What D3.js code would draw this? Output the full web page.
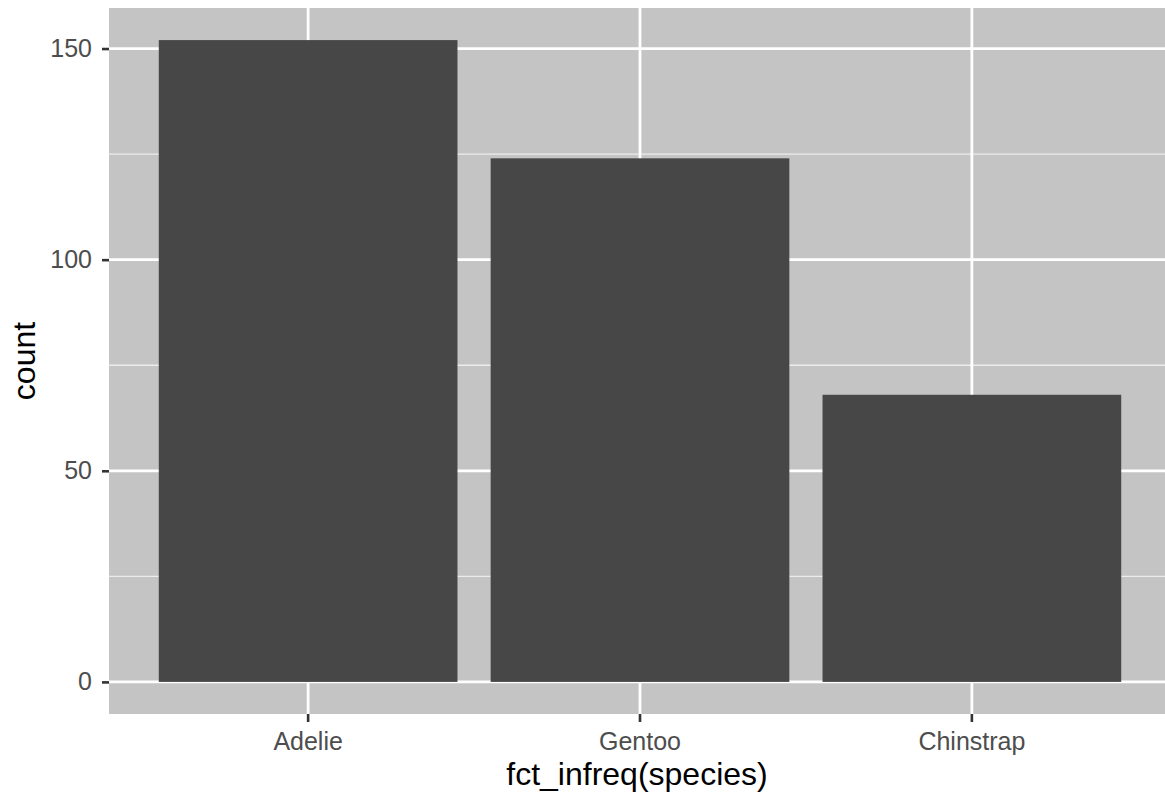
<!DOCTYPE html>
<html>
<head>
<meta charset="utf-8">
<script src="https://cdn.jsdelivr.net/npm/d3@7"></script>
<style>
  html, body { margin: 0; padding: 0; background: #ffffff; }
  svg { display: block; }
</style>
</head>
<body>
<svg id="chart" width="1165" height="797"></svg>
<script>
const categories = ["Adelie", "Gentoo", "Chinstrap"];
const counts = [152, 124, 68];
const yTicks = [0, 50, 100, 150];
const yMinorTicks = [25, 75, 125];
const xTitle = "fct_infreq(species)";
const yTitle = "count";

const W = 1165, H = 797;
const panel = { left: 109, right: 1171, top: 8, bottom: 714 };

const svg = d3.select("#chart");

const x = d3.scaleBand()
  .domain(categories)
  .range([panel.left, panel.right])
  .paddingInner(0.1)
  .paddingOuter(0.15);

const yMax = d3.max(counts);
const yExp = yMax * 0.05;
const y = d3.scaleLinear()
  .domain([0 - yExp, yMax + yExp])
  .range([panel.bottom, panel.top]);

// panel background
svg.append("rect")
  .attr("x", panel.left).attr("y", panel.top)
  .attr("width", panel.right - panel.left)
  .attr("height", panel.bottom - panel.top)
  .attr("fill", "#c4c4c4");

const grid = svg.append("g");
// minor horizontal grid
grid.selectAll("line.minor").data(yMinorTicks).enter().append("line")
  .attr("class", "minor")
  .attr("x1", panel.left).attr("x2", panel.right)
  .attr("y1", d => y(d)).attr("y2", d => y(d))
  .attr("stroke", "#ececec").attr("stroke-width", 1.4);
// major horizontal grid
grid.selectAll("line.majory").data(yTicks).enter().append("line")
  .attr("class", "majory")
  .attr("x1", panel.left).attr("x2", panel.right)
  .attr("y1", d => y(d)).attr("y2", d => y(d))
  .attr("stroke", "#ffffff").attr("stroke-width", 2.8);
// major vertical grid
grid.selectAll("line.majorx").data(categories).enter().append("line")
  .attr("class", "majorx")
  .attr("x1", d => x(d) + x.bandwidth() / 2).attr("x2", d => x(d) + x.bandwidth() / 2)
  .attr("y1", panel.top).attr("y2", panel.bottom)
  .attr("stroke", "#ffffff").attr("stroke-width", 2.8);

// bars
svg.append("g").selectAll("rect").data(categories).enter().append("rect")
  .attr("x", d => x(d))
  .attr("width", x.bandwidth())
  .attr("y", (d, i) => y(counts[i]))
  .attr("height", (d, i) => y(0) - y(counts[i]))
  .attr("fill", "#474747");

// y axis
const yAxis = svg.append("g")
  .attr("transform", `translate(${panel.left},0)`)
  .call(d3.axisLeft(y).tickValues(yTicks).tickSize(7).tickPadding(10).tickFormat(d3.format("d")));
yAxis.select(".domain").remove();
yAxis.selectAll(".tick line").attr("stroke", "#333333").attr("stroke-width", 2.6);
yAxis.selectAll(".tick text")
  .attr("fill", "#4d4d4d")
  .style("font-family", "Liberation Sans, Arial, sans-serif")
  .style("font-size", "25px");

// x axis
const xAxis = svg.append("g")
  .attr("transform", `translate(0,${panel.bottom})`)
  .call(d3.axisBottom(x).tickSize(8).tickPadding(10));
xAxis.select(".domain").remove();
xAxis.selectAll(".tick line").attr("stroke", "#333333").attr("stroke-width", 2.6);
xAxis.selectAll(".tick text")
  .attr("fill", "#4d4d4d")
  .style("font-family", "Liberation Sans, Arial, sans-serif")
  .style("font-size", "25px");

// axis titles
svg.append("text")
  .attr("x", (panel.left + panel.right) / 2 - 3)
  .attr("y", 785)
  .attr("text-anchor", "middle")
  .attr("fill", "#000000")
  .style("font-family", "Liberation Sans, Arial, sans-serif")
  .style("font-size", "32px")
  .text(xTitle);

svg.append("text")
  .attr("transform", `translate(35,${(panel.top + panel.bottom) / 2}) rotate(-90)`)
  .attr("text-anchor", "middle")
  .attr("fill", "#000000")
  .style("font-family", "Liberation Sans, Arial, sans-serif")
  .style("font-size", "32px")
  .text(yTitle);
</script>
</body>
</html>
